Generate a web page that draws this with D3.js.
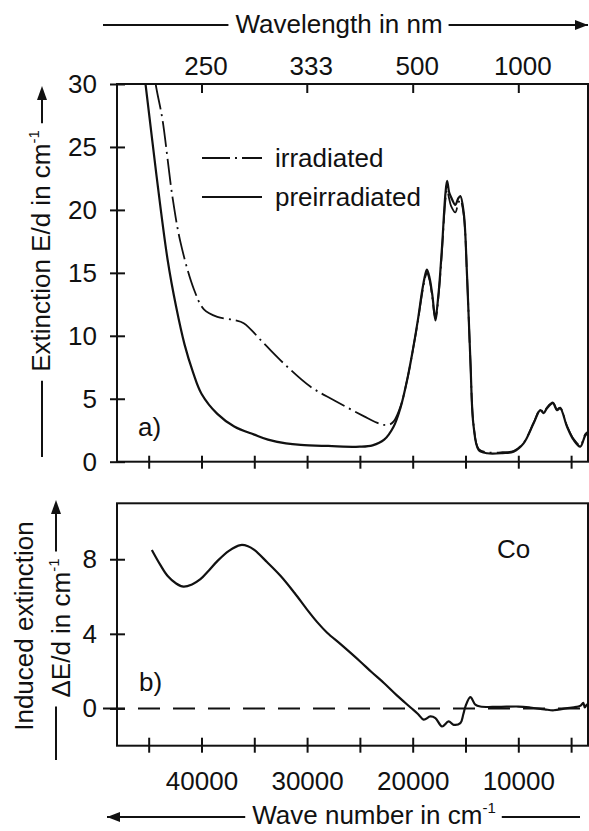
<!DOCTYPE html>
<html>
<head>
<meta charset="utf-8">
<script src="https://cdn.jsdelivr.net/npm/d3@7"></script>
<style>
  body { margin: 0; background: #fff; }
  svg text { font-family: "Liberation Sans", Arial, sans-serif; fill: #111; }
</style>
</head>
<body>
<div id="chart"></div>
<script>
// wave numbers (cm-1) and extinction values
var preWn = [45800, 45300, 44300, 43200, 42400, 41600, 40800, 40000, 38500, 36900, 35000, 33700, 32000, 30600, 28000, 25000, 23800, 22700, 21800, 21150, 20500, 20000, 19500, 19100, 18800, 18650, 18400, 18150, 17850, 17550, 17220, 16900, 16740, 16550, 16360, 15960, 15700, 15490, 15170, 14850, 14540, 14230, 13750, 12950, 11500, 10450, 9500, 8550, 7920, 7600, 7290, 6720, 6340, 6030, 5390, 4760, 4130, 3650, 3340]
var preE = [33, 30, 23, 16, 12.3, 9.3, 7.1, 5.4, 3.8, 2.8, 2.15, 1.75, 1.45, 1.33, 1.25, 1.19, 1.3, 1.75, 2.8, 4.3, 6.6, 8.8, 11.3, 13.6, 14.9, 15.25, 14.6, 13.3, 11.4, 13.4, 17.1, 21.3, 22.3, 21.4, 21.0, 20.4, 20.9, 21.1, 19.8, 14.7, 8.1, 2.8, 0.93, 0.67, 0.68, 0.8, 1.46, 3.05, 4.1, 3.85, 4.25, 4.65, 4.1, 4.25, 2.79, 1.73, 1.2, 2.1, 2.3]

var irrWn = [44800, 44340, 43700, 42760, 41980, 40720, 39770, 38500, 36900, 36000, 34100, 31900, 29700, 27500, 24600, 23400, 22700, 22200, 21800, 21150, 20500, 20000, 19500, 19100, 18800, 18650, 18400, 18150, 17850, 17550, 17220, 16900, 16740, 16550, 16360, 15960, 15700, 15490, 15170, 14850, 14540, 14230, 13750, 12950, 11500, 10450, 9500, 8550, 7920, 7600, 7290, 6720, 6340, 6030, 5390, 4760, 4130, 3650, 3340]
var irrE = [33, 30, 27.2, 21.1, 17.4, 13.7, 12.1, 11.5, 11.25, 11.0, 9.4, 7.56, 5.97, 4.9, 3.6, 3.1, 2.92, 2.95, 3.2, 4.4, 6.6, 8.8, 11.2, 13.4, 14.7, 15.0, 14.4, 13.1, 11.2, 13.2, 16.8, 20.8, 21.6, 20.9, 20.3, 19.8, 20.5, 20.8, 19.6, 14.7, 8.1, 2.9, 1.0, 0.75, 0.75, 0.85, 1.5, 3.1, 4.15, 3.9, 4.3, 4.7, 4.15, 4.3, 2.85, 1.8, 1.3, 2.2, 2.4]

var indWn = [44700, 43900, 43200, 42400, 41700, 40900, 40100, 39300, 38500, 37400, 36300, 35600, 35000, 33800, 32500, 31200, 30000, 29000, 28100, 26800, 25000, 23900, 22700, 21500, 20200, 19500, 18960, 18330, 17850, 17220, 16600, 16120, 15490, 15200, 15010, 14540, 14070, 13600, 12000, 10000, 8870, 7500, 6660, 5500, 4500, 4100, 3850, 3700, 3500, 3400]
var indE = [8.5, 7.7, 7.1, 6.7, 6.53, 6.65, 6.93, 7.4, 7.9, 8.45, 8.76, 8.7, 8.5, 7.85, 7.1, 6.2, 5.3, 4.6, 4.06, 3.43, 2.53, 1.95, 1.35, 0.7, 0.05, -0.3, -0.6, -0.43, -0.52, -0.97, -0.7, -0.88, -0.79, -0.3, 0.1, 0.61, 0.2, 0.1, 0.08, 0.1, 0.05, -0.05, -0.1, 0.0, 0.08, 0.15, 0.3, 0.05, 0.2, 0.15]

var xTicks = [45000, 40000, 35000, 30000, 25000, 20000, 15000, 10000, 5000]
var xLabels = [40000, 30000, 20000, 10000]
var nmTicks = [250, 333, 500, 1000]
var yTicksA = [0, 5, 10, 15, 20, 25, 30]
var yTicksB = [0, 4, 8]

var W = 589, H = 831
var FS = 26
var svg = d3.select("#chart").append("svg").attr("width", W).attr("height", H)

var left = 117, right = 588
var x = d3.scaleLinear().domain([48000, 3400]).range([left, right])
var ya = d3.scaleLinear().domain([0, 30]).range([461.7, 84])
var yb = d3.scaleLinear().domain([-2, 11]).range([745.7, 503.3])

var ink = "#111"

// clip areas
var defs = svg.append("defs")
defs.append("clipPath").attr("id", "clipA").append("rect")
    .attr("x", left).attr("y", ya(30)).attr("width", right - left).attr("height", ya(0) - ya(30))
defs.append("clipPath").attr("id", "clipB").append("rect")
    .attr("x", left).attr("y", yb(11)).attr("width", right - left).attr("height", yb(-2) - yb(11))

// frames
svg.append("rect").attr("x", left).attr("y", ya(30)).attr("width", right - left).attr("height", ya(0) - ya(30))
    .attr("fill", "none").attr("stroke", ink).attr("stroke-width", 2)
svg.append("rect").attr("x", left).attr("y", yb(11)).attr("width", right - left).attr("height", yb(-2) - yb(11))
    .attr("fill", "none").attr("stroke", ink).attr("stroke-width", 2)

function styleAxis(g) {
    g.select(".domain").remove()
    g.selectAll("line").attr("stroke", ink).attr("stroke-width", 2)
    g.selectAll("text").attr("font-size", FS).attr("fill", ink)
        .attr("font-family", "Liberation Sans, Arial, sans-serif")
}

// panel a: left axis
var axA = svg.append("g").attr("transform", "translate(" + left + ",0)")
    .call(d3.axisLeft(ya).tickValues(yTicksA).tickSize(7).tickPadding(13))
styleAxis(axA)
axA.selectAll(".tick line").attr("x1", 8)

// panel a: bottom ticks, no labels
var axAb = svg.append("g").attr("transform", "translate(0," + ya(0) + ")")
    .call(d3.axisBottom(x).tickValues(xTicks).tickSize(7).tickFormat(""))
styleAxis(axAb)
axAb.selectAll(".tick line").attr("y1", -6)

// panel a: top axis in wavelength
var axTop = svg.append("g").attr("transform", "translate(0," + ya(30) + ")")
    .call(d3.axisTop(x).tickValues(nmTicks.map(n => 1e7 / n)).tickSize(-9).tickPadding(9)
        .tickFormat(d => Math.round(1e7 / d)))
styleAxis(axTop)
axTop.selectAll("text").attr("dx", 4)

// panel b axes
var axB = svg.append("g").attr("transform", "translate(" + left + ",0)")
    .call(d3.axisLeft(yb).tickValues(yTicksB).tickSize(7).tickPadding(13))
styleAxis(axB)
axB.selectAll(".tick line").attr("x1", 8)

var axBb = svg.append("g").attr("transform", "translate(0," + yb(-2) + ")")
    .call(d3.axisBottom(x).tickValues(xTicks).tickSize(7)
        .tickFormat(d => xLabels.indexOf(d) >= 0 ? d : ""))
styleAxis(axBb)
axBb.selectAll(".tick line").attr("y1", -8)
axBb.selectAll("text").attr("y", 44).attr("dy", null)

// curves
var lineA = d3.line().x(d => x(d[0])).y(d => ya(d[1])).curve(d3.curveCatmullRom.alpha(0.5))
var lineB = d3.line().x(d => x(d[0])).y(d => yb(d[1])).curve(d3.curveCatmullRom.alpha(0.5))

var gA = svg.append("g").attr("clip-path", "url(#clipA)")
gA.append("path").datum(d3.zip(irrWn, irrE)).attr("d", lineA)
    .attr("fill", "none").attr("stroke", ink).attr("stroke-width", 1.8)
    .attr("stroke-dasharray", "26,5,2,5")
gA.append("path").datum(d3.zip(preWn, preE)).attr("d", lineA)
    .attr("fill", "none").attr("stroke", ink).attr("stroke-width", 2.2)

var gB = svg.append("g").attr("clip-path", "url(#clipB)")
svg.append("line").attr("x1", 103).attr("x2", right).attr("y1", yb(0)).attr("y2", yb(0))
    .attr("stroke", ink).attr("stroke-width", 2).attr("stroke-dasharray", "22,13")
gB.append("path").datum(d3.zip(indWn, indE)).attr("d", lineB)
    .attr("fill", "none").attr("stroke", ink).attr("stroke-width", 2.2)

// legend
var legend = [["irradiated", "28,5,2,5", 158], ["preirradiated", null, 197]]
legend.forEach(function (l) {
    svg.append("line").attr("x1", 202).attr("x2", 262).attr("y1", l[2]).attr("y2", l[2])
        .attr("stroke", ink).attr("stroke-width", 2).attr("stroke-dasharray", l[1])
    svg.append("text").attr("x", 275).attr("y", l[2] + 9).attr("font-size", FS).text(l[0])
})

svg.append("text").attr("x", 138).attr("y", 436).attr("font-size", FS).text("a)")
svg.append("text").attr("x", 139).attr("y", 691).attr("font-size", FS).text("b)")
svg.append("text").attr("x", 497).attr("y", 558).attr("font-size", FS).text("Co")

// horizontal titles with arrows
function hTitle(cx, baseY, lineY, x0, x1, arrowRight, build) {
    var t = svg.append("text").attr("x", cx).attr("y", baseY).attr("font-size", FS)
        .attr("text-anchor", "middle")
    build(t)
    var bb = t.node().getBBox()
    var a = bb.x - 7, b = bb.x + bb.width + 6
    svg.append("line").attr("x1", x0).attr("x2", a).attr("y1", lineY).attr("y2", lineY)
        .attr("stroke", ink).attr("stroke-width", 2)
    svg.append("line").attr("x1", b).attr("x2", x1).attr("y1", lineY).attr("y2", lineY)
        .attr("stroke", ink).attr("stroke-width", 2)
    var tip = arrowRight ? x1 : x0, dir = arrowRight ? -1 : 1
    svg.append("path").attr("fill", ink)
        .attr("d", "M" + tip + "," + lineY + "L" + (tip + dir * 13) + "," + (lineY - 5) +
            "L" + (tip + dir * 13) + "," + (lineY + 5) + "Z")
}

hTitle(339, 33, 25, 103, 588, true, function (t) { t.text("Wavelength in nm") })
hTitle(374, 824, 817, 107, 580, false, function (t) {
    t.append("tspan").text("Wave number in cm")
    t.append("tspan").attr("font-size", 15).attr("dy", -11).text("-1")
})

// rotated y titles
function vTitle(bx, cy, lineX, tipY, bottomY, build) {
    var t = svg.append("text").attr("font-size", FS).attr("text-anchor", "middle")
        .attr("transform", "translate(" + bx + "," + cy + ") rotate(-90)")
    build(t)
    var len = t.node().getComputedTextLength()
    if (tipY == null) return
    var top = cy - len / 2 - 7, bot = cy + len / 2 + 9
    svg.append("line").attr("x1", lineX).attr("x2", lineX).attr("y1", top).attr("y2", tipY + 10)
        .attr("stroke", ink).attr("stroke-width", 2)
    svg.append("line").attr("x1", lineX).attr("x2", lineX).attr("y1", bot).attr("y2", bottomY)
        .attr("stroke", ink).attr("stroke-width", 2)
    svg.append("path").attr("fill", ink)
        .attr("d", "M" + lineX + "," + tipY + "L" + (lineX - 5) + "," + (tipY + 14) +
            "L" + (lineX + 5) + "," + (tipY + 14) + "Z")
}

vTitle(50, 251, 42, 86, 457, function (t) {
    t.append("tspan").text("Extinction E/d in cm")
    t.append("tspan").attr("font-size", 15).attr("dy", -11).text("-1")
})
vTitle(33, 626, null, null, null, function (t) { t.text("Induced extinction") })
vTitle(70, 628, 56, 500, 760, function (t) {
    t.append("tspan").text("\u0394E/d in cm")
    t.append("tspan").attr("font-size", 15).attr("dy", -11).text("-1")
})
</script>
</body>
</html>
